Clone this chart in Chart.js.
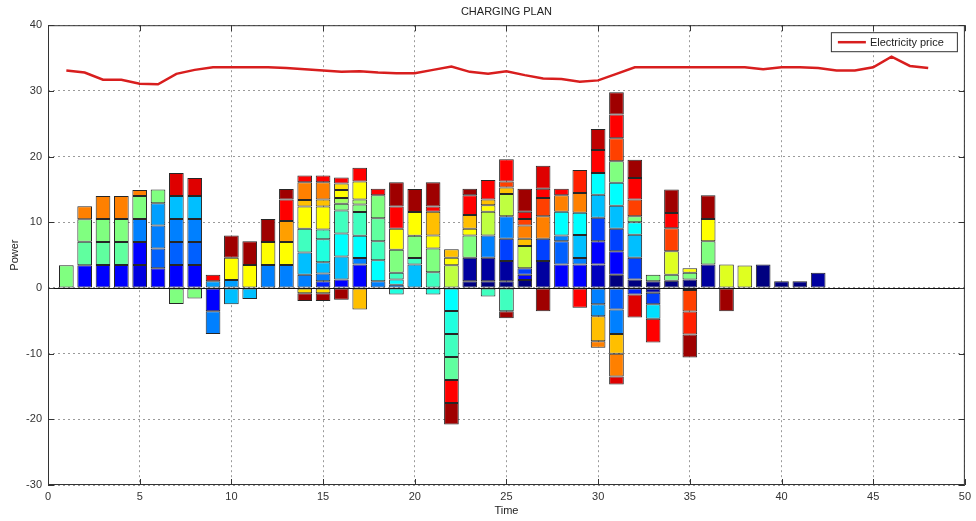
<!DOCTYPE html>
<html>
<head>
<meta charset="utf-8">
<script src="https://cdn.jsdelivr.net/npm/chart.js@4.4.1/dist/chart.umd.min.js"></script>
<style>
  html, body { margin: 0; padding: 0; background: #fff; }
</style>
</head>
<body>
<canvas id="plan" width="976" height="521"></canvas>
<script>
  // time slots that have charging / discharging activity
  const slots = [1, 2, 3, 4, 5, 6, 7, 8, 9, 10, 11, 12, 13, 14, 15, 16, 17, 18, 19, 20, 21,
    22, 23, 24, 25, 26, 27, 28, 29, 30, 31, 32, 33, 34, 35, 36, 37, 38, 39, 40, 41, 42];

  // number of EVs (one jet colour each)
  const evCount = 33;

  // for every slot: which EVs are active ...
  const evIds = [
    [16], [4, 15, 16, 24], [4, 15, 16, 24], [4, 15, 16, 24], [3, 4, 8, 16, 24],
    [4, 7, 8, 9, 16], [4, 7, 8, 10, 16, 29], [4, 7, 8, 10, 16, 29], [4, 8, 9, 28], [9, 10, 20, 31],
    [10, 20, 31], [8, 20, 31], [8, 20, 23, 28, 31], [8, 10, 14, 20, 21, 22, 24, 28, 31],
    [5, 8, 10, 13, 14, 20, 21, 22, 24, 28, 31], [4, 10, 12, 14, 16, 17, 20, 21, 28, 31],
    [4, 8, 12, 14, 16, 17, 20, 22, 28], [8, 12, 14, 15, 16, 28], [8, 12, 13, 14, 16, 20, 28, 31],
    [10, 14, 16, 20, 31], [13, 14, 16, 20, 22, 28, 31], [12, 13, 14, 15, 18, 20, 22, 28, 31],
    [0, 1, 16, 20, 22, 28, 31], [0, 1, 8, 14, 18, 20, 22, 28], [0, 1, 6, 8, 14, 18, 22, 26, 28, 31],
    [0, 4, 6, 18, 22, 24, 26, 28, 31], [1, 6, 24, 26, 28, 29, 31], [4, 7, 8, 12, 24, 28],
    [4, 8, 10, 12, 24, 27, 28], [2, 4, 6, 8, 9, 10, 12, 22, 24, 28, 30],
    [0, 4, 6, 7, 8, 10, 12, 16, 22, 24, 26, 28, 29, 31], [0, 5, 6, 10, 12, 16, 26, 28, 29, 31],
    [0, 1, 6, 11, 16, 28], [0, 16, 19, 26, 28, 31], [0, 1, 16, 20, 26, 27, 31], [1, 16, 20, 31],
    [19, 31], [19], [0], [0], [0], [1]
  ];

  // ... and their power in the same order (negative = discharging)
  const evPower = [
    [3.45], [3.45, 3.6, 3.4, 2.0], [3.5, 3.5, 3.5, 3.5], [3.5, 3.5, 3.5, 3.5], [3.5, 3.5, 3.5, 3.5, 0.9],
    [3.0, 3.0, 3.5, 3.4, 2.1], [3.5, 3.5, 3.5, 3.5, -2.45, 3.5], [3.5, 3.5, 3.5, 3.5, -1.6, 2.75],
    [-3.55, -3.45, 1.0, 1.0], [1.2, -2.5, 3.4, 3.4],
    [-1.7, 3.5, 3.6], [3.5, 3.5, 3.5], [3.5, 3.5, 3.2, 3.25, 1.6], [2.0, 3.4, 3.6, 3.4, -0.8, 1.0, 2.7, 1.0, -1.2],
    [1.0, 1.2, 1.7, 3.5, 1.5, 3.5, -0.8, 1.05, 2.65, 1.0, -1.2], [1.3, 3.5, 3.5, 3.5, 1.0, 0.9, 1.2, 1.0, 0.9, -1.8],
    [3.55, 1.0, 3.4, 3.6, 1.15, 0.75, 2.75, -3.3, 2.1], [1.0, 3.2, 2.9, 3.5, 3.5, 1.0], [0.5, 0.8, -1.0, 1.0, 3.5, 3.2, 3.4, 3.7],
    [3.55, 1.0, 3.4, 3.6, 3.5], [-1.0, 2.4, 3.6, 2.0, 3.6, 0.8, 3.7], [-3.5, -3.5, -3.5, -3.5, 3.45, 1.15, 1.3, -3.5, -3.3],
    [1.0, 3.6, 3.4, 1.0, 2.1, 3.0, 1.0], [1.0, 3.6, 3.4, -1.3, 3.6, 1.0, 0.85, 3.0], [1.0, 3.1, 3.4, 3.4, -3.55, 3.4, 1.0, 0.9, 3.4, -1.05],
    [1.2, 0.8, 1.0, 3.4, 1.1, 2.0, 1.0, 1.1, 3.5], [4.1, 3.4, 3.4, 2.8, 1.4, 3.5, -3.55], [3.55, 3.55, 0.9, 3.6, 2.5, 1.0],
    [3.55, 1.0, 3.5, 3.4, 3.0, 3.5, -3.0], [3.55, 3.55, 3.6, -2.5, -1.8, 3.5, 3.3, -3.8, -1.0, 3.5, 3.2],
    [2.0, 3.6, 3.4, -3.3, -3.7, 3.5, 3.5, 3.3, -3.0, -3.5, 3.5, 3.6, -1.2, 3.4], [1.3, -1.0, 3.3, 3.5, 1.9, 0.9, 2.55, 3.3, -3.5, 2.75],
    [1.0, -0.75, -1.75, -2.2, 1.0, -3.6], [1.1, 0.9, 3.6, 3.5, 2.3, 3.6], [1.3, -0.3, 1.0, 0.7, -3.3, -3.5, -3.5], [3.55, 3.55, 3.4, 3.6],
    [3.55, -3.55], [3.4], [3.55], [1.0], [1.0], [2.3]
  ];

  // electricity price over the whole horizon
  const priceTime = [1, 2, 3, 4, 5, 6, 7, 8, 9, 10, 11, 12, 13, 14, 15, 16, 17, 18, 19, 20, 21, 22, 23, 24,
    25, 26, 27, 28, 29, 30, 31, 32, 33, 34, 35, 36, 37, 38, 39, 40, 41, 42, 43, 44, 45, 46, 47, 48];
  const price = [33.1, 32.8, 31.7, 31.7, 31.1, 31.0, 32.6, 33.2, 33.6, 33.6, 33.6, 33.6, 33.5, 33.3, 33.1, 32.9,
    33.0, 32.8, 32.7, 32.7, 33.2, 33.7, 32.9, 32.6, 33.0, 32.4, 31.9, 31.8, 31.4, 31.6, 32.6, 33.6,
    33.6, 33.6, 33.6, 33.6, 33.6, 33.6, 33.3, 33.6, 33.6, 33.5, 33.1, 33.1, 33.6, 35.2, 33.8, 33.5];

  const FONT = "'Liberation Sans', Arial, sans-serif";

  // matlab jet colormap
  function jet(t) {
    const c = v => Math.round(255 * Math.max(0, Math.min(1, v)));
    return "rgb(" + c(1.5 - Math.abs(4 * t - 3)) + "," + c(1.5 - Math.abs(4 * t - 2)) + "," + c(1.5 - Math.abs(4 * t - 1)) + ")";
  }

  const ids = [...new Set(evIds.flat())].sort((a, b) => a - b);
  const evSets = ids.map(id => ({
    type: "bar",
    stack: "plan",
    label: "EV " + (id + 1),
    data: slots.map((s, i) => {
      const j = evIds[i].indexOf(id);
      return j < 0 ? null : { x: s, y: evPower[i][j] };
    }).filter(Boolean),
    backgroundColor: jet(id / (evCount - 1)),
    borderColor: "#262626",
    borderWidth: 1,
    borderSkipped: false,
    barPercentage: 0.8,
    categoryPercentage: 1
  }));

  const priceSet = {
    type: "line",
    stack: "price",
    label: "Electricity price",
    data: priceTime.map((t, i) => ({ x: t, y: price[i] })),
    borderColor: "#d81e1e",
    borderWidth: 2.5,
    pointRadius: 0,
    tension: 0,
    order: -1
  };

  // box around axes, inner ticks, zero baseline and the legend box
  const matlabLook = {
    id: "matlabLook",
    afterDatasetsDraw(chart) {
      const { ctx, chartArea: a, scales: { y } } = chart;
      const y0 = Math.round(y.getPixelForValue(0)) + 0.5;
      ctx.save();
      ctx.strokeStyle = "#111";
      ctx.lineWidth = 1;
      ctx.beginPath();
      ctx.moveTo(a.left, y0);
      ctx.lineTo(a.right, y0);
      ctx.stroke();
      ctx.restore();
    },
    afterDraw(chart) {
      const { ctx, chartArea: a, scales: { x, y } } = chart;
      ctx.save();
      ctx.strokeStyle = "#333";
      ctx.lineWidth = 1;
      ctx.strokeRect(a.left + 0.5, a.top + 0.5, a.width - 1, a.height - 1);
      ctx.beginPath();
      x.ticks.forEach(t => {
        const px = Math.round(x.getPixelForValue(t.value)) + 0.5;
        ctx.moveTo(px, a.bottom); ctx.lineTo(px, a.bottom - 6);
        ctx.moveTo(px, a.top); ctx.lineTo(px, a.top + 6);
      });
      y.ticks.forEach(t => {
        const py = Math.round(y.getPixelForValue(t.value)) + 0.5;
        ctx.moveTo(a.left, py); ctx.lineTo(a.left + 6, py);
        ctx.moveTo(a.right, py); ctx.lineTo(a.right - 6, py);
      });
      ctx.stroke();

      // legend
      const bx = a.right - 134, by = a.top + 7, bw = 126, bh = 19;
      ctx.fillStyle = "#fff";
      ctx.fillRect(bx, by, bw, bh);
      ctx.strokeStyle = "#333";
      ctx.strokeRect(bx + 0.5, by + 0.5, bw, bh);
      ctx.strokeStyle = priceSet.borderColor;
      ctx.lineWidth = 2.5;
      ctx.beginPath();
      ctx.moveTo(bx + 7, by + bh / 2 + 0.5);
      ctx.lineTo(bx + 35, by + bh / 2 + 0.5);
      ctx.stroke();
      ctx.fillStyle = "#222";
      ctx.font = "11px " + FONT;
      ctx.textBaseline = "middle";
      ctx.fillText(priceSet.label, bx + 39, by + bh / 2 + 1);
      ctx.restore();
    }
  };

  new Chart(document.getElementById("plan"), {
    data: { datasets: [priceSet, ...evSets] },
    options: {
      responsive: false,
      animation: false,
      layout: { padding: { top: 0, right: 10, bottom: 0, left: 0 } },
      plugins: {
        legend: { display: false },
        tooltip: { enabled: false },
        title: {
          display: true,
          text: "CHARGING PLAN",
          fullSize: false,
          color: "#222",
          font: { family: FONT, size: 11, weight: "normal" },
          padding: { top: 5, bottom: 7 }
        }
      },
      scales: {
        x: {
          type: "linear",
          stacked: true,
          min: 0,
          max: 50,
          offset: false,
          grid: { offset: false, color: "#9a9a9a", drawTicks: false },
          border: { display: false, dash: [2, 3] },
          ticks: { stepSize: 5, padding: 5, color: "#333", font: { family: FONT, size: 11 } },
          title: { display: true, text: "Time", color: "#222", font: { family: FONT, size: 11 }, padding: { top: 2, bottom: 3 } },
          afterFit: s => { s.height = 36; }
        },
        y: {
          stacked: true,
          min: -30,
          max: 40,
          grid: { color: "#9a9a9a", drawTicks: false },
          border: { display: false, dash: [2, 3] },
          ticks: { stepSize: 10, padding: 6, color: "#333", font: { family: FONT, size: 11 } },
          title: { display: true, text: "Power", color: "#222", font: { family: FONT, size: 11 }, padding: { top: 8, bottom: 0 } },
          afterFit: s => { s.width = 48; }
        }
      }
    },
    plugins: [matlabLook]
  });
</script>
</body>
</html>
